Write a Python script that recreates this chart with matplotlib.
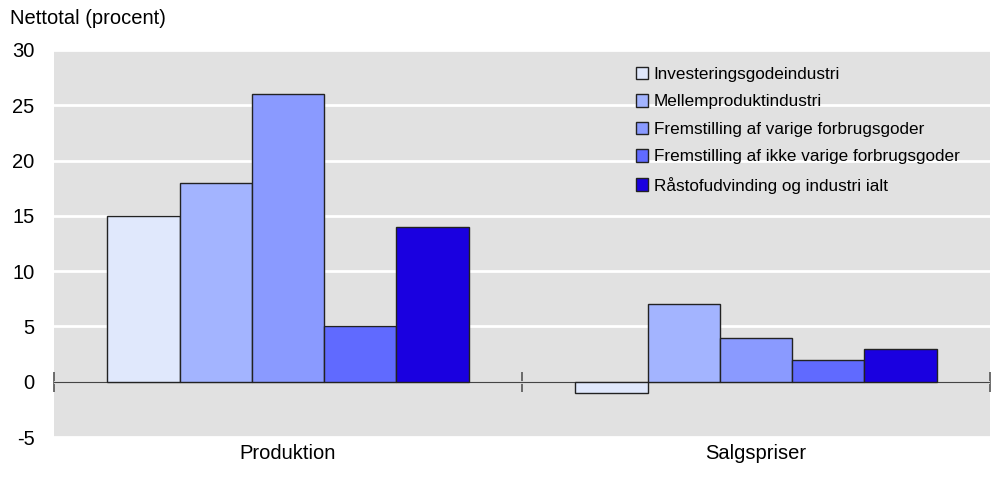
import matplotlib.pyplot as plt
import numpy as np

plt.rcParams['font.family'] = ['Liberation Sans', 'DejaVu Sans']

categories = ['Produktion', 'Salgspriser']
series = ['Investeringsgodeindustri', 'Mellemproduktindustri',
          'Fremstilling af varige forbrugsgoder',
          'Fremstilling af ikke varige forbrugsgoder',
          'Råstofudvinding og industri ialt']
values = [[15, -1], [18, 7], [26, 4], [5, 2], [14, 3]]
colors = ['#e0e8fc', '#a3b4ff', '#8a9aff', '#606aff', '#1a00e0']
yticks = [-5, 0, 5, 10, 15, 20, 25, 30]

fig = plt.figure(figsize=(9.99, 4.9), dpi=100)
ax = fig.add_axes([0.054, 0.108, 0.937, 0.79])
ax.set_facecolor('#e1e1e1')

x = np.arange(len(categories))
w = 0.1543
for i, (name, vals) in enumerate(zip(series, values)):
    ax.bar(x + (i - 2) * w, vals, w, color=colors[i], edgecolor='#222222',
           linewidth=1, label=name, zorder=3)

ax.set_xlim(-0.5, 1.5)
ax.set_ylim(-5, 30)
ax.set_yticks(yticks)
ax.set_yticklabels([str(v) for v in yticks], fontsize=14.5)
ax.yaxis.grid(True, color='white', lw=2)
ax.set_axisbelow(True)
ax.tick_params(axis='y', length=0, pad=14)
ax.set_xticks(x)
ax.set_xticklabels(categories, fontsize=14.5)
ax.tick_params(axis='x', length=0, pad=5)
for s in ax.spines.values():
    s.set_visible(False)

# zero line with category separators
ax.axhline(0, color='#444444', lw=1, zorder=2.5)
sec = ax.secondary_xaxis(5 / 35)
sec.set_xticks([-0.5, 0.5, 1.5])
sec.set_xticklabels([])
sec.tick_params(direction='inout', length=14, color='#555555', width=1.2)
sec.spines['bottom'].set_visible(False)

fig.text(0.01, 0.962, 'Nettotal (procent)', fontsize=14.5, va='center')

leg = ax.legend(loc='upper left', bbox_to_anchor=(0.605, 0.997), frameon=False,
                fontsize=12.3, handlelength=0.75, handleheight=0.75,
                handletextpad=0.3, labelspacing=0.72)
for h in leg.legend_handles:
    h.set_linewidth(1)

fig.savefig('out.png', dpi=100)
